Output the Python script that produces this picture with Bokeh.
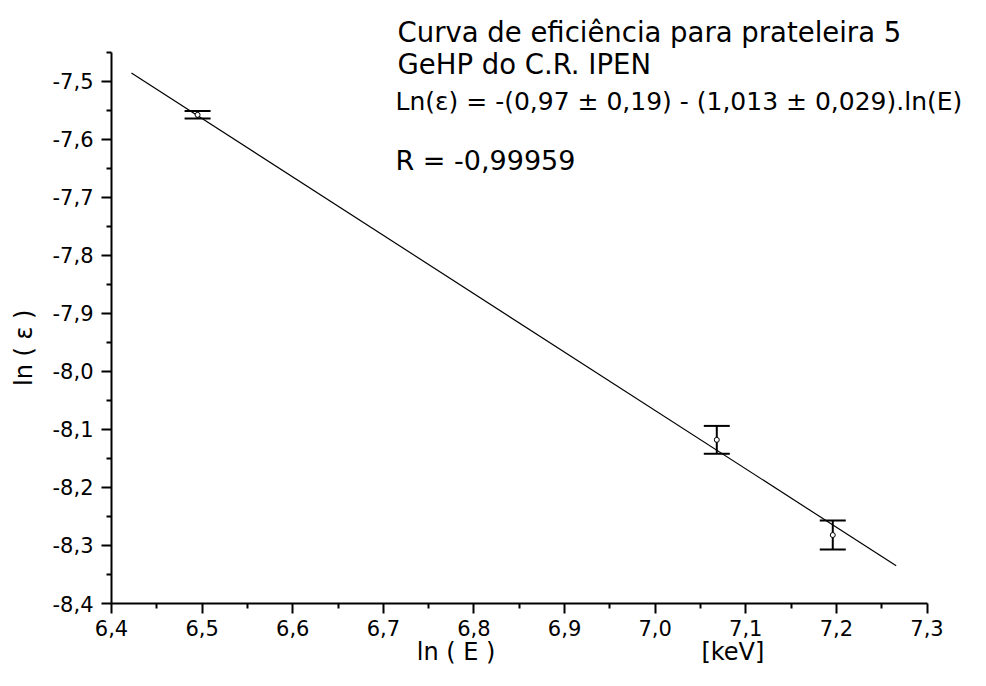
import math
from bokeh.plotting import figure
from bokeh.models import (Range1d, FixedTicker, CustomJSTickFormatter, Whisker, TeeHead,
                          ColumnDataSource, Label)
from bokeh.embed import file_html
from bokeh.resources import INLINE

# ---- data ----
ln_E = [6.495, 7.068, 7.196]
ln_eff = [-7.558, -8.118, -8.282]
ln_eff_err = [0.0065, 0.024, 0.025]

fit_x = [6.422, 7.266]
fit_y = [-7.486, -8.335]

x_ticks = [6.4, 6.5, 6.6, 6.7, 6.8, 6.9, 7.0, 7.1, 7.2, 7.3]
x_minor = [6.45, 6.55, 6.65, 6.75, 6.85, 6.95, 7.05, 7.15, 7.25]
y_ticks = [-8.4, -8.3, -8.2, -8.1, -8.0, -7.9, -7.8, -7.7, -7.6, -7.5]
y_minor = [-8.35, -8.25, -8.15, -8.05, -7.95, -7.85, -7.75, -7.65, -7.55, -7.45]

title_lines = ["Curva de eficiência para prateleira 5", "GeHP do C.R. IPEN"]
equation = "Ln(\u03b5) = -(0,97 \u00b1 0,19) - (1,013 \u00b1 0,029).ln(E)"
r_text = "R = -0,99959"
x_label = "ln ( E )"
x_unit = "[keV]"
y_label = "ln ( \u03b5 )"

FONT = "DejaVu Sans"
NB = "\u00a0"

p = figure(width=970, height=670, output_backend="svg", toolbar_location=None,
           x_range=Range1d(6.4, 7.348), y_range=Range1d(-8.4, -7.361),
           min_border_left=111, min_border_right=0, min_border_top=0, min_border_bottom=67)
p.outline_line_color = None
p.grid.visible = False
p.background_fill_color = "white"
p.border_fill_color = "white"

fmt = CustomJSTickFormatter(code="return tick.toFixed(1).replace('.', ',');")
for ax, major, minor in ((p.xaxis[0], x_ticks, x_minor), (p.yaxis[0], y_ticks, y_minor)):
    ax.ticker = FixedTicker(ticks=major, minor_ticks=minor)
    ax.formatter = fmt
    ax.axis_line_width = 2
    ax.axis_line_color = "black"
    ax.major_tick_line_width = 2
    ax.minor_tick_line_width = 2
    ax.major_tick_line_color = "black"
    ax.minor_tick_line_color = "black"
    ax.major_tick_out = 10
    ax.major_tick_in = 0
    ax.minor_tick_out = 5
    ax.minor_tick_in = 0
    ax.major_label_text_font = FONT
    ax.major_label_text_font_size = "21px"
    ax.major_label_text_color = "black"
    ax.axis_label_text_font = FONT
    ax.axis_label_text_font_size = "24px"
    ax.axis_label_text_font_style = "normal"
    ax.axis_label_text_color = "black"

p.xaxis[0].major_label_standoff = 6
p.yaxis[0].major_label_standoff = 8
p.xaxis[0].bounds = (x_ticks[0], x_ticks[-1])
p.yaxis[0].bounds = (y_ticks[0], y_minor[-1])
p.xaxis[0].axis_label = NB * 13 + x_label + NB * 27 + x_unit
p.xaxis[0].axis_label_standoff = -1
p.yaxis[0].axis_label = y_label + NB * 12
p.yaxis[0].axis_label_standoff = 12

# fit line
p.line(fit_x, fit_y, line_color="black", line_width=1.2)

# data with error bars
upper = [v + e for v, e in zip(ln_eff, ln_eff_err)]
lower = [v - e for v, e in zip(ln_eff, ln_eff_err)]
src = ColumnDataSource(dict(x=ln_E, y=ln_eff, upper=upper, lower=lower))
w = Whisker(source=src, base="x", upper="upper", lower="lower",
            line_color="black", line_width=2,
            upper_head=TeeHead(size=26, line_color="black", line_width=2),
            lower_head=TeeHead(size=26, line_color="black", line_width=2))
p.add_layout(w)
p.scatter("x", "y", source=src, marker="circle", size=5, fill_color="white",
          line_color="black", line_width=1)

# texts (screen units relative to frame bottom-left)
def add_label(text, x, y, size="27px"):
    p.add_layout(Label(x=x, y=y, x_units="screen", y_units="screen", text=text,
                       text_font=FONT, text_font_size=size, text_color="black",
                       text_align="left", text_baseline="middle"))

add_label(title_lines[0], 286, 572, size="27.5px")
add_label(title_lines[1], 286, 540, size="27.5px")
add_label(equation, 284, 502, size="25px")
add_label(r_text, 284, 443)

open("out.html", "w").write(file_html(p, INLINE))
